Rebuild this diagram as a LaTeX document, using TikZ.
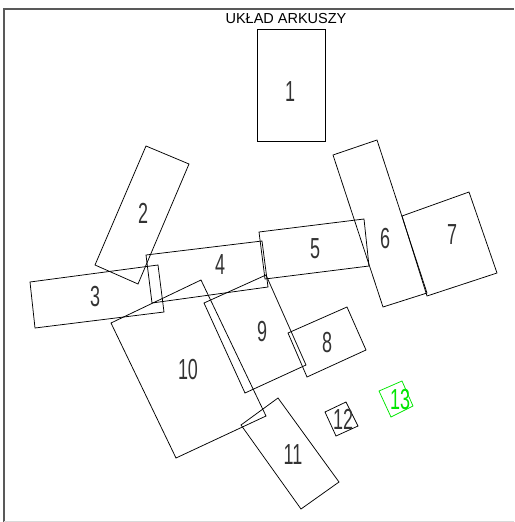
\documentclass[tikz,border=0pt]{standalone}
\usepackage{fontspec}
\setmainfont{Liberation Sans}
\definecolor{cadgreen}{RGB}{0,230,0}
\tikzset{
  sheet/.style={draw=black, line width=0.75pt, line join=miter},
  num/.style={inner sep=0pt, text=black!80, font=\fontsize{29}{29}\selectfont},
  frameline/.style={draw=black!65, line width=1.2pt},
}
\newcommand{\cadnum}[1]{\scalebox{0.62}[1]{#1}}
\begin{document}
\begin{tikzpicture}[x=1pt,y=-1pt]
\useasboundingbox (0,0) rectangle (514,522);
% frame
\draw[frameline] (4,522) -- (4,9) -- (514,9);
\draw[draw=black!15, line width=1pt] (4,521.5) -- (514,521.5);
\node[font=\fontsize{14.5}{14.5}\selectfont, inner sep=0pt] (title) at (286,19) {UKŁAD ARKUSZY};
% sheets
\draw[sheet] (257,29) -- (325,29) -- (325,141) -- (257,141) -- cycle;
\node[num] (n1) at (290,92) {\cadnum{1}};
\draw[sheet] (146,146) -- (189,164) -- (138,284) -- (95,265) -- cycle;
\node[num] (n2) at (143,213) {\cadnum{2}};
\draw[sheet] (30,282) -- (158,265) -- (164,312) -- (35,328) -- cycle;
\node[num] (n3) at (95,297) {\cadnum{3}};
\draw[sheet] (146,255) -- (262,241) -- (268,287) -- (152,303) -- cycle;
\node[num] (n4) at (220,265) {\cadnum{4}};
\draw[sheet] (259,232) -- (364,219) -- (369,266) -- (265,279) -- cycle;
\node[num] (n5) at (315,249) {\cadnum{5}};
\draw[sheet] (333,155) -- (377,140) -- (427,293) -- (383,307) -- cycle;
\node[num] (n6) at (385,239) {\cadnum{6}};
\draw[sheet] (402,216) -- (469,192) -- (497,273) -- (427,296) -- cycle;
\node[num] (n7) at (452,235) {\cadnum{7}};
\draw[sheet] (288,333) -- (347,307) -- (366,350) -- (307,377) -- cycle;
\node[num] (n8) at (327,343) {\cadnum{8}};
\draw[sheet] (204,303) -- (266,275) -- (306,365) -- (245,393) -- cycle;
\node[num] (n9) at (262,332) {\cadnum{9}};
\draw[sheet] (111,323) -- (201,280) -- (266,416) -- (176,458) -- cycle;
\node[num] (n10) at (188,370) {\cadnum{10}};
\draw[sheet] (241,425) -- (278,398) -- (339,482) -- (301,509) -- cycle;
\node[num] (n11) at (293,455) {\cadnum{11}};
\draw[sheet] (325,412) -- (346,402) -- (358,426) -- (336,436) -- cycle;
\node[num] (n12) at (343,419) {\cadnum{12}};
\draw[sheet, draw=cadgreen] (379,391) -- (402,381) -- (413,406) -- (391,417) -- cycle;
\node[num, text=cadgreen] (n13) at (400,400) {\cadnum{13}};
\end{tikzpicture}
\end{document}
